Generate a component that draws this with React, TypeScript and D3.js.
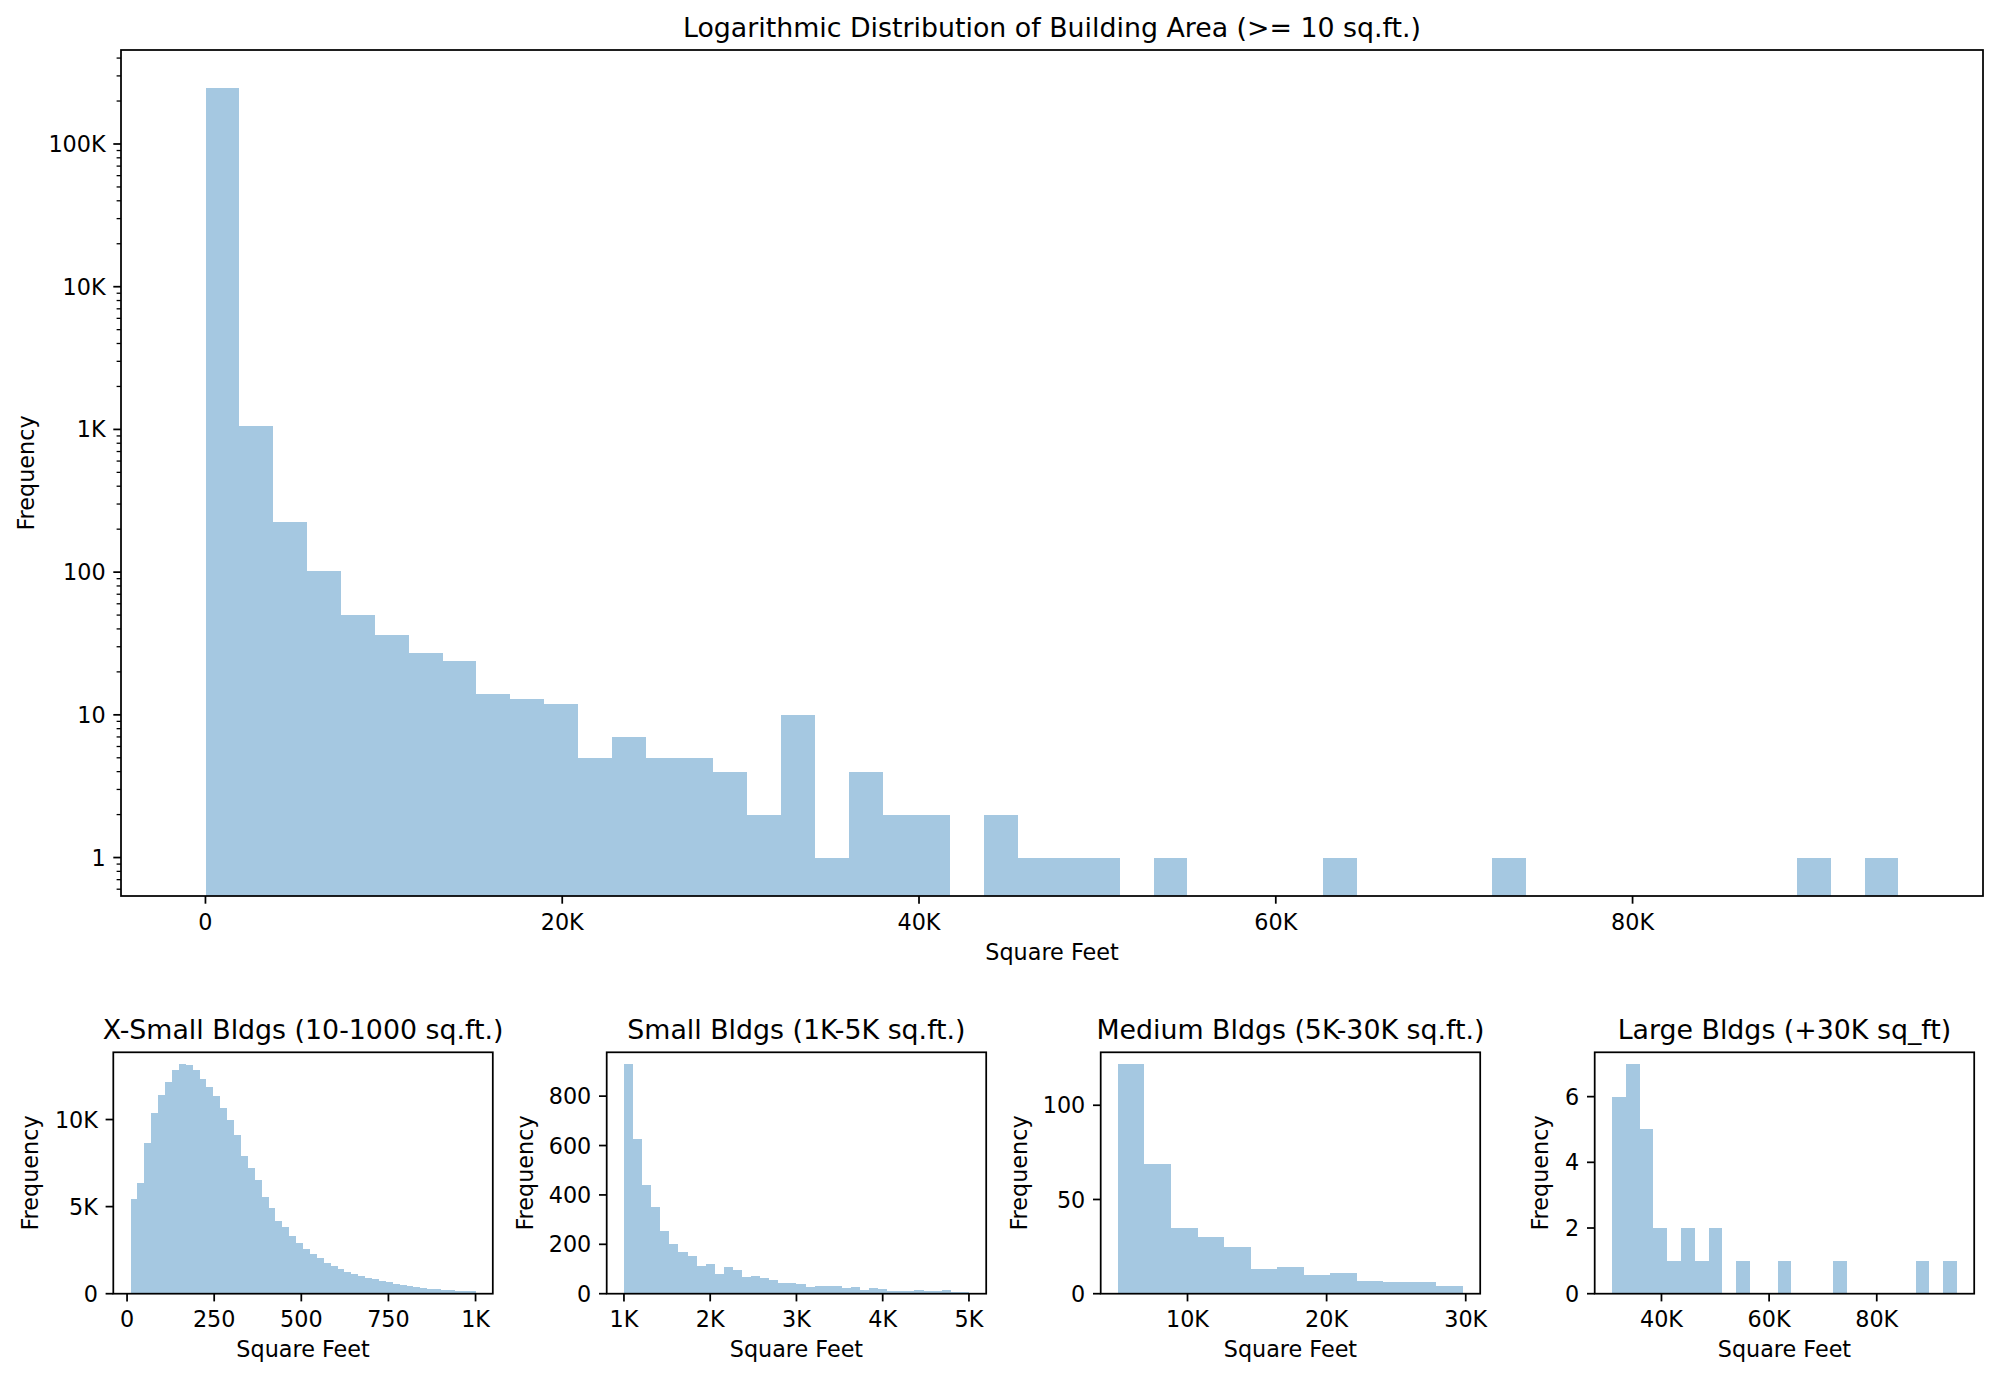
import React from "react";
import * as d3 from "d3";

// ---------- data ----------
const mainCounts = [
  245000, 1054, 225, 102, 50, 36, 27, 24, 14, 13, 12, 5, 7,
  5, 5, 4, 2, 10, 1, 4, 2, 2,
  0, 2, 1, 1, 1, 0, 1,
  0, 0, 0, 0, 1,
  0, 0, 0, 0, 1,
  0, 0, 0, 0, 0, 0, 0, 0, 1,
  0, 1,
];
const mainRange = [10, 94900];
const mainXTicks = [0, 20000, 40000, 60000, 80000];
const mainYTicks = [1, 10, 100, 1000, 10000, 100000];

const xsmallCounts = [
  5430, 6350, 8650, 10380, 11430, 12140, 12870, 13200, 13140, 12850,
  12350, 11870, 11370, 10680, 9970, 9110, 7920, 7210, 6520, 5580,
  4910, 4180, 3820, 3300, 2930, 2550, 2300, 2050, 1780, 1590,
  1400, 1230, 1130, 1040, 920, 830, 710, 650, 580, 500,
  440, 380, 330, 290, 250, 230, 190, 170, 150, 130,
];
const xsmallRange = [10, 1000];
const xsmallXTicks = [0, 250, 500, 750, 1000];
const xsmallYTicks = [0, 5000, 10000];

const smallCounts = [
  931, 628, 441, 352, 253, 200, 168, 154, 112, 120,
  80, 107, 96, 69, 70, 64, 57, 42, 43, 38,
  26, 30, 32, 32, 23, 26, 16, 22, 18, 11,
  11, 9, 14, 12, 11, 14, 5, 5,
];
const smallRange = [1000, 5000];
const smallXTicks = [1000, 2000, 3000, 4000, 5000];
const smallYTicks = [0, 200, 400, 600, 800];

const mediumCounts = [122, 69, 35, 30, 25, 13, 14, 10, 11, 7, 6, 6, 4];
const mediumRange = [5000, 29800];
const mediumXTicks = [10000, 20000, 30000];
const mediumYTicks = [0, 50, 100];

const largeCounts = [
  6, 7, 5, 2, 1, 2, 1, 2, 0, 1, 0, 0, 1, 0, 0, 0, 1, 0, 0, 0, 0, 0, 1, 0, 1,
];
const largeRange = [30800, 94900];
const largeXTicks = [40000, 60000, 80000];
const largeYTicks = [0, 2, 4, 6];

const titles = {
  main: "Logarithmic Distribution of Building Area (>= 10 sq.ft.)",
  xsmall: "X-Small Bldgs (10-1000 sq.ft.)",
  small: "Small Bldgs (1K-5K sq.ft.)",
  medium: "Medium Bldgs (5K-30K sq.ft.)",
  large: "Large Bldgs (+30K sq_ft)",
};
const xLabel = "Square Feet";
const yLabel = "Frequency";

// ---------- style ----------
const FONT = "DejaVu Sans";
const BAR = "#a5c8e1";
const TICK_FS = 22.3;
const TITLE_FS = 26.8;
const MAJOR = 7.7;
const MINOR = 4.4;
const LW = 1.75;

const fmt = (v: number) => (v >= 1000 ? `${v / 1000}K` : `${v}`);

type Box = { left: number; top: number; width: number; height: number };

function Panel(props: {
  box: Box;
  counts: number[];
  range: number[];
  log?: boolean;
  xTicks: number[];
  yTicks: number[];
  title: string;
  yLabelOffset: number;
}) {
  const { box, counts, range, log, xTicks, yTicks, title, yLabelOffset } = props;
  const { left, top, width, height } = box;
  const bottom = top + height;
  const right = left + width;
  const [lo, hi] = range;
  const n = counts.length;
  const pad = 0.05 * (hi - lo);
  const x = d3.scaleLinear().domain([lo - pad, hi + pad]).range([left, right]);
  const maxC = d3.max(counts) as number;
  let y: any;
  const minor: number[] = [];
  if (log) {
    const L = Math.log10(maxC);
    const m = 0.05 * L;
    y = d3.scaleLog().domain([Math.pow(10, -m), Math.pow(10, L + m)]).range([bottom, top]);
    const [d0, d1] = y.domain();
    for (let e = -1; e <= 6; e++) {
      for (let k = 2; k <= 9; k++) {
        const v = k * Math.pow(10, e);
        if (v >= d0 && v <= d1) minor.push(v);
      }
    }
  } else {
    y = d3.scaleLinear().domain([0, maxC * 1.05]).range([bottom, top]);
  }
  const edges = d3.range(n + 1).map((i) => lo + (i * (hi - lo)) / n);
  const cx = (left + right) / 2;

  return (
    <g>
      {counts.map((c, i) =>
        c > 0 ? (
          <rect
            key={i}
            x={x(edges[i])}
            width={x(edges[i + 1]) - x(edges[i])}
            y={y(c)}
            height={bottom - y(c)}
            fill={BAR}
            shapeRendering="crispEdges"
          />
        ) : null
      )}
      <rect x={left} y={top} width={width} height={height} fill="none" stroke="#000" strokeWidth={LW} />
      {xTicks.map((t) => (
        <g key={"x" + t}>
          <line x1={x(t)} x2={x(t)} y1={bottom} y2={bottom + MAJOR} stroke="#000" strokeWidth={LW} />
          <text x={x(t)} y={bottom + 33.5} textAnchor="middle" fontSize={TICK_FS} fontFamily={FONT}>
            {fmt(t)}
          </text>
        </g>
      ))}
      {yTicks.map((t) => (
        <g key={"y" + t}>
          <line x1={left - MAJOR} x2={left} y1={y(t)} y2={y(t)} stroke="#000" strokeWidth={LW} />
          <text x={left - 15.4} y={y(t)} dy="0.36em" textAnchor="end" fontSize={TICK_FS} fontFamily={FONT}>
            {fmt(t)}
          </text>
        </g>
      ))}
      {minor.map((t) => (
        <line key={"m" + t} x1={left - MINOR} x2={left} y1={y(t)} y2={y(t)} stroke="#000" strokeWidth={1.3} />
      ))}
      <text x={cx} y={top - 13} textAnchor="middle" fontSize={TITLE_FS} fontFamily={FONT}>
        {title}
      </text>
      <text x={cx} y={bottom + 63.5} textAnchor="middle" fontSize={TICK_FS} fontFamily={FONT}>
        {xLabel}
      </text>
      <text
        transform={`translate(${left - yLabelOffset},${(top + bottom) / 2}) rotate(-90)`}
        textAnchor="middle"
        fontSize={TICK_FS}
        fontFamily={FONT}
      >
        {yLabel}
      </text>
    </g>
  );
}

export default function App() {
  const subTop = 1052.3;
  const subH = 241.4;
  const subW = 379.5;
  return (
    <svg
      width={2000}
      height={1380}
      style={{ position: "absolute", left: 0, top: 0, background: "#fff" }}
      xmlns="http://www.w3.org/2000/svg"
    >
      <rect x={0} y={0} width={2000} height={1380} fill="#fff" />
      <Panel
        box={{ left: 121, top: 50, width: 1862, height: 846 }}
        counts={mainCounts}
        range={mainRange}
        log
        xTicks={mainXTicks}
        yTicks={mainYTicks}
        title={titles.main}
        yLabelOffset={87}
      />
      <Panel
        box={{ left: 113.3, top: subTop, width: subW, height: subH }}
        counts={xsmallCounts}
        range={xsmallRange}
        xTicks={xsmallXTicks}
        yTicks={xsmallYTicks}
        title={titles.xsmall}
        yLabelOffset={75}
      />
      <Panel
        box={{ left: 606.7, top: subTop, width: subW, height: subH }}
        counts={smallCounts}
        range={smallRange}
        xTicks={smallXTicks}
        yTicks={smallYTicks}
        title={titles.small}
        yLabelOffset={74}
      />
      <Panel
        box={{ left: 1100.7, top: subTop, width: subW, height: subH }}
        counts={mediumCounts}
        range={mediumRange}
        xTicks={mediumXTicks}
        yTicks={mediumYTicks}
        title={titles.medium}
        yLabelOffset={74}
      />
      <Panel
        box={{ left: 1594.7, top: subTop, width: subW, height: subH }}
        counts={largeCounts}
        range={largeRange}
        xTicks={largeXTicks}
        yTicks={largeYTicks}
        title={titles.large}
        yLabelOffset={46.5}
      />
    </svg>
  );
}
